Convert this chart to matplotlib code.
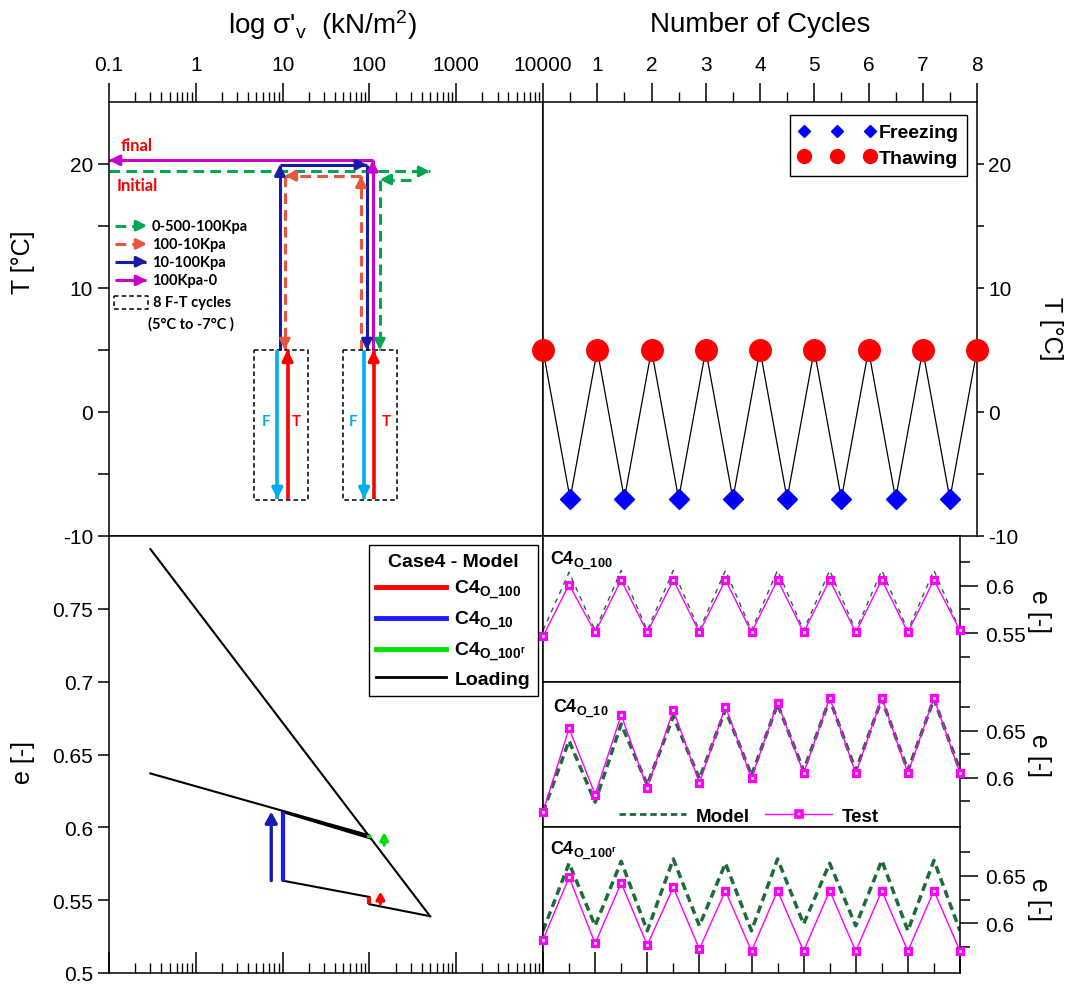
import numpy as np
import matplotlib
matplotlib.use('Agg')
import matplotlib.pyplot as plt
from matplotlib.lines import Line2D
from matplotlib.ticker import LogLocator, NullFormatter, MultipleLocator, FixedLocator

plt.rcParams['font.family'] = ['Liberation Sans', 'DejaVu Sans']
plt.rcParams['mathtext.fontset'] = 'custom'
plt.rcParams['mathtext.rm'] = 'Liberation Sans'
plt.rcParams['mathtext.it'] = 'Liberation Sans:italic'
plt.rcParams['mathtext.bf'] = 'Liberation Sans:bold'
plt.rcParams['axes.linewidth'] = 1.1

# stress axis (kPa)
stress_ticks = [0.1, 1, 10, 100, 1000, 10000]
stress_labels = ['0.1', '1', '10', '100', '1000', '10000']

# temperature history for the 8 freeze-thaw cycles
thaw_cycle = [0, 1, 2, 3, 4, 5, 6, 7, 8]
thaw_temp = [5, 5, 5, 5, 5, 5, 5, 5, 5]
freeze_cycle = [0.5, 1.5, 2.5, 3.5, 4.5, 5.5, 6.5, 7.5]
freeze_temp = [-7, -7, -7, -7, -7, -7, -7, -7]

# stress paths in the sigma-T plane, one list of segments per path
path_green = [[(0.1, 19.4), (500, 19.4)], [(300, 18.75), (132, 18.75)], [(132, 18.75), (132, 5)]]
path_orange = [[(80, 5), (80, 19.05)], [(80, 19.05), (10.6, 19.05)], [(10.6, 19.05), (10.6, 5)]]
path_blue = [[(9.3, 5), (9.3, 19.95)], [(9.3, 19.95), (93.5, 19.95)], [(93.5, 19.95), (93.5, 5)]]
path_magenta = [[(109, 5), (109, 20.3)], [(109, 20.3), (0.1, 20.3)]]
freeze_arrow_x = [8.7, 87]
thaw_arrow_x = [11.4, 112]
ft_box_x = [(4.7, 19.5), (49, 209)]

# e - log sigma model (Case 4)
virgin_s = [0.3, 500]
virgin_e = [0.791, 0.539]
unload_s = [500, 100]
unload_e = [0.539, 0.5472]
o100_s = [100, 100]
o100_e = [0.5472, 0.5522]
unload2_s = [100, 10]
unload2_e = [0.5522, 0.5634]
o10_s = [10, 10]
o10_e = [0.5634, 0.6108]
reload_s = [10, 100]
reload_e = [0.6108, 0.5929]
o100r_s = [100, 100]
o100r_e = [0.5924, 0.5945]
final_s = [100, 0.3]
final_e = [0.5945, 0.637]
swell_arrows = [(7.4, 0.5634, 0.6108, '#1A1AB0', 12), (148, 0.5878, 0.5966, '#00E000', 8),
                (134, 0.5476, 0.5560, '#FF0000', 8)]

# void ratio during cycles
cyc = [0, 0.5, 1, 1.5, 2, 2.5, 3, 3.5, 4, 4.5, 5, 5.5, 6, 6.5, 7, 7.5, 8]
test_o100 = [0.547, 0.601, 0.551, 0.606, 0.551, 0.606, 0.551, 0.606, 0.551,
             0.606, 0.551, 0.606, 0.551, 0.606, 0.551, 0.606, 0.553]
model_o100 = [0.553, 0.614, 0.553, 0.616, 0.553, 0.616, 0.553, 0.616, 0.553,
              0.616, 0.553, 0.616, 0.553, 0.616, 0.553, 0.616, 0.553]
test_o10 = [0.5637, 0.6525, 0.5824, 0.6666, 0.5894, 0.6719, 0.5947, 0.6754, 0.5997,
            0.6793, 0.605, 0.6846, 0.605, 0.6846, 0.605, 0.6846, 0.605]
model_o10 = [0.5637, 0.6394, 0.5743, 0.657, 0.5926, 0.6652, 0.599, 0.6722, 0.6025,
             0.6782, 0.6077, 0.6835, 0.6077, 0.6835, 0.6077, 0.6835, 0.6077]
test_o100r = [0.5828, 0.6483, 0.579, 0.6424, 0.5772, 0.6378, 0.573, 0.6342, 0.5709,
              0.6342, 0.5709, 0.6342, 0.5709, 0.6342, 0.5709, 0.6342, 0.5709]
model_o100r = [0.5922, 0.663, 0.5975, 0.665, 0.5922, 0.6675, 0.5975, 0.663, 0.5922,
               0.6675, 0.5993, 0.663, 0.5975, 0.666, 0.5922, 0.666, 0.5922]

GREEN_D = '#00A651'
ORANGE_D = '#E8553A'
NAVY = '#1A1AAA'
MAGENTA = '#CC00CC'
SKY = '#00AEEF'
MODEL_C = '#1D6B3A'
TEST_C = '#FF00FF'


def head(ax, p0, p1, color, lw, size=11):
    # arrow head only, pointing along p0 -> p1 (axis aligned)
    dx = 0 if p0[0] == p1[0] else np.sign(p1[0] - p0[0])
    dy = 0 if p0[1] == p1[1] else np.sign(p1[1] - p0[1])
    ax.annotate('', xy=p1, xytext=(-dx * 5, -dy * 5), textcoords='offset points',
                arrowprops=dict(arrowstyle='-|>,head_length=0.55,head_width=0.28',
                                color=color, lw=lw, shrinkA=0, shrinkB=0, mutation_scale=size))


def draw_path(ax, segs, color, dashed=False, lw=2.2):
    for p0, p1 in segs:
        kw = dict(dashes=(3.5, 2)) if dashed else {}
        ax.plot([p0[0], p1[0]], [p0[1], p1[1]], color=color, lw=lw,
                solid_capstyle='butt', dash_capstyle='butt', **kw)
        head(ax, p0, p1, color, lw)


fig = plt.figure(figsize=(10.85, 9.87), dpi=100)
L, M, R, R2 = 109 / 1085, 543 / 1085, 977 / 1085, 960 / 1085


def fy(py):
    return 1 - py / 987


ax_tl = fig.add_axes([L, fy(537), M - L, fy(103) - fy(537)])
ax_tr = fig.add_axes([M, fy(537), R - M, fy(103) - fy(537)])
ax_bl = fig.add_axes([L, fy(974), M - L, fy(537) - fy(974)])
ax_r1 = fig.add_axes([M, fy(683), R2 - M, fy(537) - fy(683)])
ax_r2 = fig.add_axes([M, fy(828), R2 - M, fy(683) - fy(828)])
ax_r3 = fig.add_axes([M, fy(974), R2 - M, fy(828) - fy(974)])

# ---------------- top left: stress / temperature path ----------------
ax = ax_tl
ax.set_xscale('log')
ax.set_xlim(0.1, 1e4)
ax.set_ylim(-10, 25)
ax.tick_params(axis='x', which='both', bottom=False, top=True, labelbottom=False,
               labeltop=True, direction='out')
ax.tick_params(axis='x', which='major', length=14, width=1.1, labelsize=15, pad=6)
ax.tick_params(axis='x', which='minor', length=7, width=1)
ax.set_xticks(stress_ticks)
ax.set_xticklabels(stress_labels)
ax.xaxis.set_minor_locator(LogLocator(base=10, subs=np.arange(2, 10), numticks=60))
ax.xaxis.set_minor_formatter(NullFormatter())
ax.set_yticks(np.arange(-10, 21, 5))
ax.set_yticklabels(['-10', '', '0', '', '10', '', '20'])
ax.tick_params(axis='y', left=True, right=False, direction='out', length=8, width=1.1,
               labelsize=15)
ax.text(-0.198, 0.634, 'T [°C]', transform=ax.transAxes, rotation=90,
        ha='center', va='center', fontsize=18)

draw_path(ax, path_green, GREEN_D, dashed=True)
draw_path(ax, path_orange, ORANGE_D, dashed=True)
draw_path(ax, path_blue, NAVY)
draw_path(ax, path_magenta, MAGENTA)

for (x0, x1) in ft_box_x:
    ax.plot([x0, x1, x1, x0, x0], [5, 5, -7.1, -7.1, 5], color='black', lw=1.1, ls='--',
            dashes=(3, 2))
for xf, xt in zip(freeze_arrow_x, thaw_arrow_x):
    draw_path(ax, [[(xf, 5), (xf, -7)]], SKY, lw=2.6)
    draw_path(ax, [[(xt, -7), (xt, 5)]], '#FF0000', lw=2.6)
for xf, xt in [(6.5, 14.6), (65.6, 157)]:
    ax.text(xf, -0.7, 'F', color=SKY, fontsize=11, fontweight='bold', family='Lato',
            ha='center', va='center')
    ax.text(xt, -0.7, 'T', color='#FF0000', fontsize=11, fontweight='bold', family='Lato',
            ha='center', va='center')

ax.text(0.027, 0.90, 'final', transform=ax.transAxes, color='#FF0000', fontsize=12,
        fontweight='bold', family='Lato', va='center')
ax.text(0.018, 0.809, 'Initial', transform=ax.transAxes, color='#FF0000', fontsize=12,
        fontweight='bold', family='Lato', va='center')

# path legend
leg_items = [('0-500-100Kpa', GREEN_D, True), ('100-10Kpa', ORANGE_D, True),
             ('10-100Kpa', NAVY, False), ('100Kpa-0', MAGENTA, False)]
leg_y = [0.715, 0.673, 0.632, 0.589]
for (lab, col, dashed), yy in zip(leg_items, leg_y):
    if dashed:
        ax.plot([0.0138, 0.058], [yy, yy], transform=ax.transAxes, color=col, lw=2.2,
                dashes=(3.5, 2), dash_capstyle='butt')
    else:
        ax.plot([0.0138, 0.085], [yy, yy], transform=ax.transAxes, color=col, lw=2.2,
                solid_capstyle='butt')
    ax.annotate('', xy=(0.0876, yy), xycoords='axes fraction', xytext=(-5, 0),
                textcoords='offset points',
                arrowprops=dict(arrowstyle='-|>,head_length=0.55,head_width=0.28',
                                color=col, lw=2.2, shrinkA=0, shrinkB=0, mutation_scale=11))
    ax.text(0.099, yy, lab, transform=ax.transAxes, fontsize=10.5, fontweight='bold',
            family='Lato', va='center')
ax.plot([0.0115, 0.0898, 0.0898, 0.0115, 0.0115], [0.553, 0.553, 0.523, 0.523, 0.553],
        transform=ax.transAxes, color='black', lw=1.1, dashes=(3, 2))
ax.text(0.101, 0.539, '8 F-T cycles', transform=ax.transAxes, fontsize=10.5,
        fontweight='bold', family='Lato', va='center')
ax.text(0.09, 0.491, '(5°C to -7°C )', transform=ax.transAxes, fontsize=10.5,
        fontweight='bold', family='Lato', va='center')

# ---------------- top right: temperature vs cycles ----------------
ax = ax_tr
ax.set_xlim(0, 8)
ax.set_ylim(-10, 25)
line_c = sorted(thaw_cycle + freeze_cycle)
line_t = [dict(zip(thaw_cycle + freeze_cycle, thaw_temp + freeze_temp))[c] for c in line_c]
ax.plot(line_c, line_t, color='black', lw=0.9, zorder=2)
ax.plot(freeze_cycle, freeze_temp, ls='none', marker='D', ms=10, color='#0000FF',
        clip_on=False, zorder=3)
ax.plot(thaw_cycle, thaw_temp, ls='none', marker='o', ms=15.5, color='#FF0000',
        clip_on=False, zorder=3)
ax.tick_params(axis='x', which='both', bottom=False, top=True, labelbottom=False,
               labeltop=True, direction='out')
ax.tick_params(axis='x', which='major', length=14, width=1.1, labelsize=15, pad=6)
ax.tick_params(axis='x', which='minor', length=7, width=1)
ax.set_xticks(range(1, 9))
ax.xaxis.set_minor_locator(FixedLocator(freeze_cycle))
ax.set_yticks(np.arange(-10, 21, 5))
ax.set_yticklabels(['-10', '', '0', '', '10', '', '20'])
ax.tick_params(axis='y', left=False, right=True, labelleft=False, labelright=True,
               direction='out', length=5, width=1.1, labelsize=15, pad=3)
ax.text(1.17, 0.48, 'T [°C]', transform=ax.transAxes, rotation=270,
        ha='center', va='center', fontsize=18)
h_f = Line2D([], [], ls='none', marker='D', ms=6.5, color='#0000FF')
h_t = Line2D([], [], ls='none', marker='o', ms=10, color='#FF0000')
ax.legend([h_f, h_t], ['Freezing', 'Thawing'], loc='upper right', bbox_to_anchor=(0.977, 0.970),
          numpoints=3, handlelength=4.0, handletextpad=0.1, borderpad=0.45, labelspacing=0.4,
          fancybox=False, edgecolor='black', framealpha=1, borderaxespad=0,
          prop={'weight': 'bold', 'size': 14})

# ---------------- bottom left: e - log sigma ----------------
ax = ax_bl
ax.set_xscale('log')
ax.set_xlim(0.1, 1e4)
ax.set_ylim(0.5, 0.8)
ax.plot(virgin_s, virgin_e, color='black', lw=1.5)
ax.plot(unload_s, unload_e, color='black', lw=1.5)
ax.plot(unload2_s, unload2_e, color='black', lw=1.5)
ax.plot(reload_s, reload_e, color='black', lw=2.2)
ax.plot(final_s, final_e, color='black', lw=1.5)
ax.plot(o100_s, o100_e, color='#FF0000', lw=3, solid_capstyle='butt')
ax.plot(o10_s, o10_e, color='#1A1AFF', lw=3, solid_capstyle='butt')
ax.plot(o100r_s, o100r_e, color='#00E000', lw=3, solid_capstyle='butt')
for xs, e0, e1, col, sz in swell_arrows:
    ax.annotate('', xy=(xs, e1), xytext=(xs, e0),
                arrowprops=dict(arrowstyle='-|>,head_length=0.55,head_width=0.3',
                                color=col, lw=2.4, shrinkA=0, shrinkB=0, mutation_scale=sz))
ax.tick_params(axis='x', which='both', bottom=True, top=False, labelbottom=False,
               direction='in')
ax.tick_params(axis='x', which='major', length=15, width=1.1)
ax.tick_params(axis='x', which='minor', length=7, width=1)
ax.set_xticks(stress_ticks)
ax.xaxis.set_minor_locator(LogLocator(base=10, subs=np.arange(2, 10), numticks=60))
ax.xaxis.set_minor_formatter(NullFormatter())
ax.set_yticks([0.5, 0.55, 0.6, 0.65, 0.7, 0.75])
ax.set_yticklabels(['0.5', '0.55', '0.6', '0.65', '0.7', '0.75'])
ax.tick_params(axis='y', direction='out', length=8, width=1.1, labelsize=15)
ax.text(-0.198, 0.485, 'e [-]', transform=ax.transAxes, rotation=90,
        ha='center', va='center', fontsize=18)
hs = [Line2D([], [], color='#FF0000', lw=3.5), Line2D([], [], color='#1A1AFF', lw=3.5),
      Line2D([], [], color='#00E000', lw=3.5), Line2D([], [], color='black', lw=2)]
labs = [r'$\mathbf{C4_{O\_100}}$', r'$\mathbf{C4_{O\_10}}$', r'$\mathbf{C4_{O\_100^{r}}}$',
        'Loading']
leg = ax.legend(hs, labs, title='Case4 - Model', loc='upper right',
                bbox_to_anchor=(0.988, 0.979), borderaxespad=0, fancybox=False,
                edgecolor='black', framealpha=1, handlelength=3.6, handletextpad=0.4,
                labelspacing=0.4, prop={'weight': 'bold', 'size': 14},
                title_fontproperties={'weight': 'bold', 'size': 14})

# ---------------- bottom right: e vs cycles ----------------
panels = [(ax_r1, test_o100, model_o100, r'$\mathbf{C4_{O\_100}}$', (0.499, 0.652),
           [0.55, 0.6], [0.525, 0.575, 0.625], 1.0, (3.6, 3.6), (0.017, 0.91), 0.49),
          (ax_r2, test_o10, model_o10, r'$\mathbf{C4_{O\_10}}$', (0.548, 0.7015),
           [0.6, 0.65], [0.575, 0.625, 0.675], 2.5, (2.3, 1.4), (0.024, 0.90), 0.50),
          (ax_r3, test_o100r, model_o100r, r'$\mathbf{C4_{O\_100^{r}}}$', (0.548, 0.701),
           [0.6, 0.65], [0.575, 0.625, 0.675], 2.5, (2.3, 1.4), (0.016, 0.918), 0.507)]
for ax, test, model, title, ylim, major, minor, mlw, dash, tpos, lab_y in panels:
    ax.set_xlim(0, 8)
    ax.set_ylim(*ylim)
    ax.plot(cyc, model, color=MODEL_C, lw=mlw, dashes=dash, zorder=2)
    ax.plot(cyc, test, color=TEST_C, lw=1, marker='s', ms=3.8, mfc='white', mec=TEST_C,
            mew=2.3, clip_on=False, zorder=3)
    ax.set_yticks(major)
    ax.set_yticklabels([f'{v:g}' for v in major])
    ax.yaxis.set_minor_locator(FixedLocator(minor))
    ax.tick_params(axis='y', which='both', left=False, right=True, labelleft=False,
                   labelright=True, direction='out', width=1.1, labelsize=15, pad=5)
    ax.tick_params(axis='y', which='major', length=13)
    ax.tick_params(axis='y', which='minor', length=7)
    ax.tick_params(axis='x', which='both', bottom=False, top=False, labelbottom=False)
    ax.text(tpos[0], tpos[1], title, transform=ax.transAxes, fontsize=13, va='top',
            ha='left')
    ax.text(1.19, lab_y, 'e [-]', transform=ax.transAxes, rotation=270,
            ha='center', va='center', fontsize=18)

ax_r3.set_xticks(range(0, 9))
ax_r3.xaxis.set_minor_locator(MultipleLocator(0.5))
ax_r3.tick_params(axis='x', which='both', bottom=True, direction='in', labelbottom=False)
ax_r3.tick_params(axis='x', which='major', length=15, width=1.1)
ax_r3.tick_params(axis='x', which='minor', length=7, width=1)

h_m = Line2D([], [], color=MODEL_C, lw=2, dashes=(2.3, 1.4))
h_s = Line2D([], [], color=TEST_C, lw=1, marker='s', ms=4.5, mfc='white', mec=TEST_C, mew=2.6)
ax_r2.legend([h_m, h_s], ['Model', 'Test'], loc='lower center', bbox_to_anchor=(0.494, -0.1),
             ncol=2, frameon=False, numpoints=1, handlelength=3.6, handletextpad=0.5,
             columnspacing=0.8, prop={'weight': 'bold', 'size': 13.5})

fig.text(322 / 1085, fy(25), "log σ'$_\\mathregular{v}$  (kN/m$^\\mathregular{2}$)",
         ha='center', va='center', fontsize=20)
fig.text(760 / 1085, fy(25), 'Number of Cycles', ha='center', va='center', fontsize=20)

fig.savefig('out.png', dpi=100)
